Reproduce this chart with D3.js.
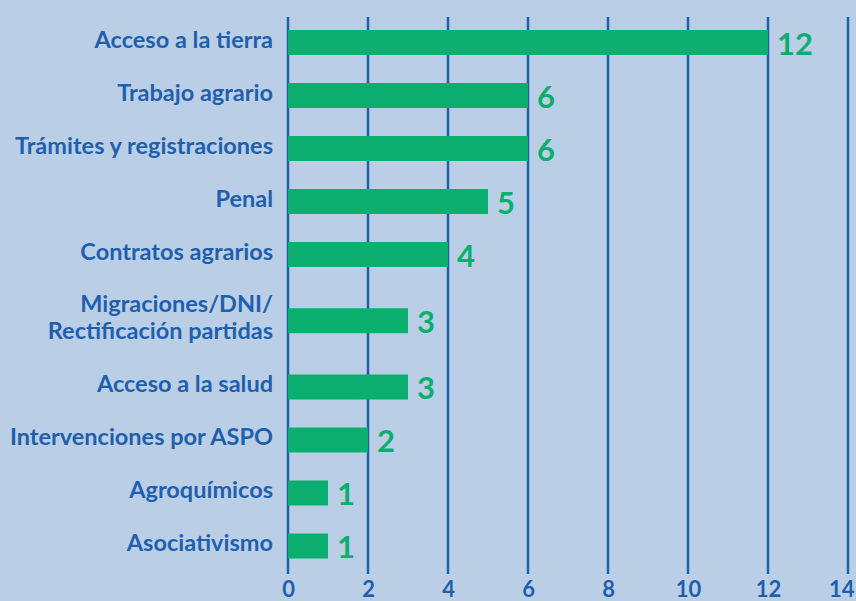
<!DOCTYPE html>
<html>
<head>
<meta charset="utf-8">
<script src="https://cdn.jsdelivr.net/npm/d3@7"></script>
<style>
  html, body { margin: 0; padding: 0; background: #bacfe6; }
  svg { display: block; }
</style>
</head>
<body>
<div id="chart"></div>
<script>
"use strict";

const chtWidth = 856,
  chtHeight = 601;

// Data
const categories = [
  ["Acceso a la tierra"],
  ["Trabajo agrario"],
  ["Trámites y registraciones"],
  ["Penal"],
  ["Contratos agrarios"],
  ["Migraciones/DNI/", "Rectificación partidas"],
  ["Acceso a la salud"],
  ["Intervenciones por ASPO"],
  ["Agroquímicos"],
  ["Asociativismo"],
];
const values = [12, 6, 6, 5, 4, 3, 3, 2, 1, 1];
const tickValues = [0, 2, 4, 6, 8, 10, 12, 14];

const colBg = "#bacfe6",
  colBlue = "#1f5fae",
  colGreen = "#0aaf70";

const svg = d3
  .select("#chart")
  .append("svg")
  .attr("width", chtWidth)
  .attr("height", chtHeight)
  .style("font-family", "Lato, 'Open Sans', sans-serif");

svg.append("rect").attr("width", chtWidth).attr("height", chtHeight).attr("fill", colBg);

const x = d3.scaleLinear().domain([0, 14]).range([288, 848]);

// two-line labels take a little more room than the others
const slots = [];
categories.reduce((acc, c, i) => {
  const extra = c.length > 1 ? 0.25 : 0;
  const pos = i === 0 ? 0 : acc + 1 + extra;
  slots.push(pos);
  return pos + extra;
}, 0);

const y = d3.scaleLinear().domain([0, 9.5]).range([42.5, 546]);
const barH = 25;

// vertical grid
svg
  .append("g")
  .selectAll("line")
  .data(tickValues)
  .join("line")
  .attr("x1", (d) => x(d))
  .attr("x2", (d) => x(d))
  .attr("y1", 17)
  .attr("y2", 574)
  .attr("stroke", colBlue)
  .attr("stroke-width", 2.5);

// x axis labels
svg
  .append("g")
  .attr("transform", "translate(0,574)")
  .call(d3.axisBottom(x).tickValues(tickValues).tickSize(0).tickPadding(7))
  .call((g) => g.select(".domain").remove())
  .call((g) =>
    g
      .selectAll("text")
      .attr("fill", colBlue)
      .attr("font-size", 22)
      .attr("font-weight", "bold")
      .attr("font-family", "Lato, sans-serif")
  )
  // last label sits against the right edge
  .call((g) =>
    g
      .selectAll(".tick")
      .filter((d) => d === d3.max(tickValues))
      .select("text")
      .attr("text-anchor", "end")
      .attr("x", 6)
  );

// bars
svg
  .append("g")
  .selectAll("rect")
  .data(values)
  .join("rect")
  .attr("x", x(0))
  .attr("y", (d, i) => y(slots[i]) - barH / 2)
  .attr("width", (d) => x(d) - x(0))
  .attr("height", barH)
  .attr("fill", colGreen);

// value labels
svg
  .append("g")
  .selectAll("text")
  .data(values)
  .join("text")
  .attr("x", (d) => x(d) + 9)
  .attr("y", (d, i) => y(slots[i]) + 12)
  .attr("fill", colGreen)
  .attr("font-size", 31)
  .attr("font-weight", "bold")
  .text((d) => d);

// category labels
const lab = svg
  .append("g")
  .selectAll("text")
  .data(categories)
  .join("text")
  .attr("text-anchor", "end")
  .attr("fill", colBlue)
  .attr("font-size", 23.5)
  .attr("font-weight", "bold")
  .attr("y", (d, i) => y(slots[i]) + 5 - ((d.length - 1) * 27) / 2);

lab
  .selectAll("tspan")
  .data((d) => d)
  .join("tspan")
  .attr("x", 273)
  .attr("dy", (d, j) => (j === 0 ? 0 : 27))
  .text((d) => d);
</script>
</body>
</html>
